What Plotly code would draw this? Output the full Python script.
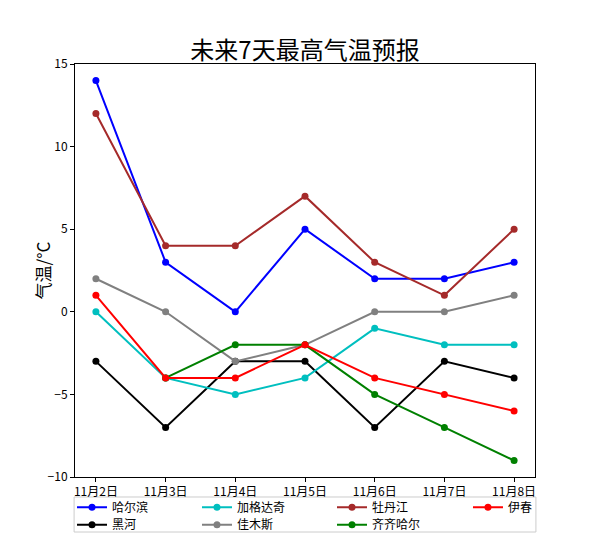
import plotly.graph_objects as go

days = ["11月2日", "11月3日", "11月4日", "11月5日", "11月6日", "11月7日", "11月8日"]

harbin = [14, 3, 0, 5, 2, 2, 3]
heihe = [-3, -7, -3, -3, -7, -3, -4]
jiagedaqi = [0, -4, -5, -4, -1, -2, -2]
jiamusi = [2, 0, -3, -2, 0, 0, 1]
mudanjiang = [12, 4, 4, 7, 3, 1, 5]
qiqihaer = [None, -4, -2, -2, -5, -7, -9]
yichun = [1, -4, -4, -2, -4, -5, -6]

# drawing order; (column, row) of each entry in the legend box
series = [
    ("哈尔滨", harbin, "#0000ff", (0, 0)),
    ("黑河", heihe, "#000000", (0, 1)),
    ("加格达奇", jiagedaqi, "#00bfbf", (1, 0)),
    ("佳木斯", jiamusi, "#808080", (1, 1)),
    ("牡丹江", mudanjiang, "#a52a2a", (2, 0)),
    ("齐齐哈尔", qiqihaer, "#008000", (2, 1)),
    ("伊春", yichun, "#ff0000", (3, 0)),
]

font = "Noto Sans CJK SC"
col_x = [-0.0065, 0.2652, 0.5587, 0.8543]   # paper x of legend columns
row_y = [0.0545, 0.0213]                     # container y of legend rows

fig = go.Figure()
legends = {}
for i, (name, vals, color, (c, r)) in enumerate(series):
    lid = "legend" if i == 0 else f"legend{i + 1}"
    fig.add_trace(go.Scatter(x=list(range(len(days))), y=vals, name=name,
                             mode="lines+markers",
                             line=dict(color=color, width=2),
                             marker=dict(color=color, size=7),
                             legend=lid))
    legends[lid] = dict(x=col_x[c], xanchor="left", xref="paper",
                        y=row_y[r], yanchor="middle", yref="container",
                        borderwidth=0, bgcolor="rgba(0,0,0,0)", itemwidth=30,
                        font=dict(family=font, size=12))

# page body adds 8px margin, so the figure is a bit smaller than the window
fig.update_layout(
    width=587, height=528,
    margin=dict(l=67, r=60, t=56, b=59),
    paper_bgcolor="white", plot_bgcolor="white",
    font=dict(family=font, size=12, color="black"),
    title=dict(text="未来7天最高气温预报", x=0.506, xanchor="center", y=0.92, yanchor="middle",
               font=dict(family=font, size=24, color="black")),
    showlegend=True,
    **legends,
)
# legend frame
fig.add_shape(type="rect", xref="paper", yref="paper", x0=-0.002, x1=1.002, y0=-0.1332, y1=-0.0484,
              line=dict(color="#cccccc", width=1), fillcolor="rgba(0,0,0,0)", layer="below")
# y axis title
fig.add_annotation(text="气温/°C", xref="paper", yref="paper", x=-0.0696, y=0.5,
                   xanchor="center", yanchor="middle", textangle=-90, showarrow=False,
                   font=dict(family=font, size=17, color="black"))
fig.update_xaxes(range=[-0.3, 6.3], tickmode="array", tickvals=list(range(len(days))), ticktext=days,
                 showgrid=False, zeroline=False, showline=True, linecolor="black", linewidth=1,
                 mirror=True, ticks="outside", ticklen=4, tickcolor="black", automargin=False)
fig.update_yaxes(range=[-10, 15], tickvals=[-10, -5, 0, 5, 10, 15],
                 ticktext=["−10", "−5", "0", "5", "10", "15"],
                 showgrid=False, zeroline=False, showline=True, linecolor="black", linewidth=1,
                 mirror=True, ticks="outside", ticklen=4, tickcolor="black", automargin=False)

fig.write_html("out.html")
